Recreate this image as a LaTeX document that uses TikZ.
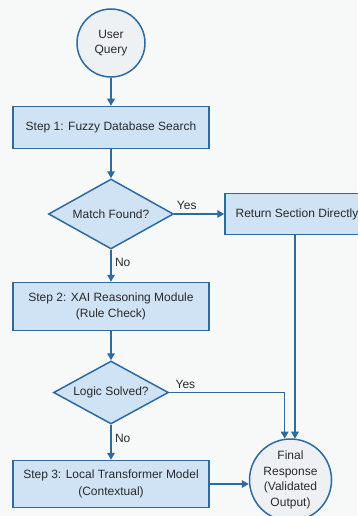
\documentclass[tikz,border=0pt]{standalone}
\usepackage{fontspec}
\setmainfont{Liberation Sans}
\usetikzlibrary{arrows.meta, positioning, shapes.geometric}
\definecolor{ink}{HTML}{2A2A2A}
\definecolor{line}{HTML}{2C6AA0}
\definecolor{boxfill}{HTML}{CFE3F5}
\definecolor{circfill}{HTML}{EEF1F4}
\definecolor{paper}{HTML}{F7F8F8}
\tikzset{
  stepbox/.style={draw=line, fill=boxfill, line width=1.5pt, align=center,
                  minimum width=196pt, inner sep=4pt, text=ink,
                  font=\fontsize{12}{16.5}\selectfont},
  decide/.style={diamond, draw=line, fill=boxfill, line width=1.5pt, aspect=2,
                 inner sep=0pt, text=ink, font=\fontsize{12}{14}\selectfont},
  term/.style={circle, draw=line, fill=circfill, line width=1.5pt, align=center,
               inner sep=0pt, text=ink, font=\fontsize{12}{15.5}\selectfont},
  fl/.style={-{Triangle[length=7pt, width=7.5pt]}, line width=1.5pt, draw=line},
  lbl/.style={text=ink, font=\fontsize{12}{14}\selectfont},
}
\begin{document}
\begin{tikzpicture}
  \useasboundingbox[fill=paper] (0,0) rectangle (357pt,-516pt);

  % main column
  \node[term, minimum size=68pt] (uq) at (111pt,-43pt) {User\\Query};
  \node[stepbox, minimum height=42pt, below=28pt of uq] (s1) {Step 1: Fuzzy Database Search};
  \node[decide, minimum width=125pt, minimum height=70pt, below=29pt of s1] (mf) {Match Found?};
  \node[stepbox, minimum height=48pt, below=32pt of mf] (s2) {Step 2: XAI Reasoning Module\\(Rule Check)};
  \node[decide, minimum width=115pt, minimum height=63pt, below=29pt of s2] (ls) {Logic Solved?};
  \node[stepbox, minimum height=47pt, below=35pt of ls] (s3) {Step 3: Local Transformer Model\\(Contextual)};

  % right side
  \node[stepbox, minimum width=144pt, minimum height=41pt, inner xsep=9pt, right=50pt of mf] (ret) {Return Section Directly};
  \node[term, minimum size=82pt, right=39pt of s3, yshift=4pt] (fin) {Final\\Response\\(Validated\\Output)};

  % connectors
  \draw[fl] (uq) -- (s1);
  \draw[fl] (s1) -- (mf);
  \draw[fl] (mf) -- node[lbl, above, pos=0.25] {Yes} (ret);
  \draw[fl] (mf) -- node[lbl, right, pos=0.4] {No} (s2);
  \draw[fl] (s2) -- (ls);
  \draw[fl] (ls) -- node[lbl, right, pos=0.4] {No} (s3);
  \draw[fl] (ls.east) -| node[lbl, above, pos=0.07] {Yes} (fin.98);
  \draw[fl] (ret.south -| 295pt,0) -- (295pt,0 |- fin.82);
  \draw[fl] (s3.east) -- (s3.east -| fin.west);
\end{tikzpicture}
\end{document}
